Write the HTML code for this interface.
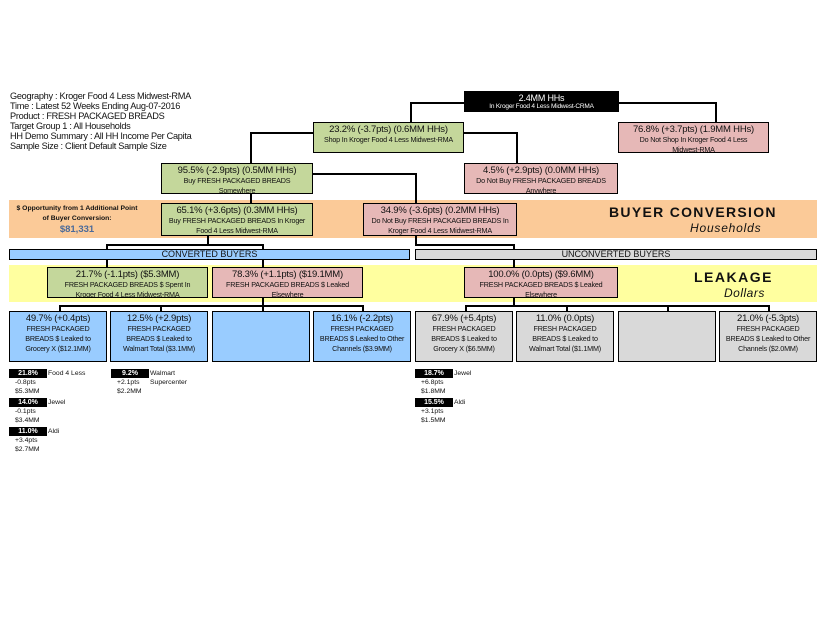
<!DOCTYPE html>
<html><head><meta charset="utf-8"><style>
body{margin:0;width:825px;height:638px;background:#fff;position:relative;overflow:hidden;font-family:"Liberation Sans",Arial,sans-serif;color:#111}
div{position:absolute;box-sizing:border-box}
.b{border:1.5px solid #000;text-align:center;overflow:hidden}
.t{position:static;font-size:9.5px;line-height:11px;margin-top:1px;letter-spacing:-0.2px;font-weight:500}
.s{position:static;font-size:7.2px;line-height:10px;letter-spacing:-0.2px;white-space:nowrap}
.g{background:#c4d79b}.p{background:#e6b8b7}.bl{background:#99ccff}.gr{background:#d9d9d9}
.h{height:1.5px;background:#000}.v{width:1.5px;background:#000}
.info{left:10px;font-size:9.2px;line-height:10px;letter-spacing:-0.3px}
.k{background:#000;color:#fff;font-size:7px;font-weight:bold;text-align:center;height:9px;line-height:9px;width:38px}
.m{font-size:6.8px;line-height:9px}
</style></head><body>
<div class="info" style="top:91px">Geography : Kroger Food 4 Less Midwest-RMA<br>Time : Latest 52 Weeks Ending Aug-07-2016<br>Product : FRESH PACKAGED BREADS<br>Target Group 1 : All Households<br>HH Demo Summary : All HH Income Per Capita<br>Sample Size : Client Default Sample Size</div>

<div style="left:9px;top:200px;width:808px;height:38px;background:#fbca98"></div>
<div style="left:9px;top:265px;width:808px;height:37px;background:#ffff9f"></div>

<!-- connectors -->
<div class="h" style="left:410px;top:102px;width:55px"></div>
<div class="h" style="left:617px;top:102px;width:99px"></div>
<div class="v" style="left:410px;top:102px;height:20px"></div>
<div class="v" style="left:715px;top:102px;height:20px"></div>
<div class="h" style="left:250px;top:132px;width:64px"></div>
<div class="v" style="left:250px;top:132px;height:31px"></div>
<div class="h" style="left:463px;top:132px;width:54px"></div>
<div class="v" style="left:516px;top:132px;height:31px"></div>
<div class="h" style="left:312px;top:173px;width:104px"></div>
<div class="v" style="left:415px;top:173px;height:30px"></div>
<div class="v" style="left:250px;top:194px;height:9px"></div>
<div class="v" style="left:207px;top:236px;height:9px"></div>
<div class="h" style="left:106px;top:244px;width:157px"></div>
<div class="v" style="left:106px;top:244px;height:23px"></div>
<div class="v" style="left:262px;top:244px;height:23px"></div>
<div class="v" style="left:415px;top:236px;height:9px"></div>
<div class="h" style="left:415px;top:244px;width:99px"></div>
<div class="v" style="left:513px;top:244px;height:23px"></div>
<div class="v" style="left:262px;top:298px;height:8px"></div>
<div class="h" style="left:59px;top:305px;width:305px"></div>
<div class="v" style="left:59px;top:305px;height:6px"></div>
<div class="v" style="left:160px;top:305px;height:6px"></div>
<div class="v" style="left:262px;top:305px;height:6px"></div>
<div class="v" style="left:362px;top:305px;height:6px"></div>
<div class="v" style="left:513px;top:298px;height:8px"></div>
<div class="h" style="left:465px;top:305px;width:305px"></div>
<div class="v" style="left:465px;top:305px;height:6px"></div>
<div class="v" style="left:566px;top:305px;height:6px"></div>
<div class="v" style="left:667px;top:305px;height:6px"></div>
<div class="v" style="left:768px;top:305px;height:6px"></div>

<!-- boxes -->
<div class="b" style="left:464px;top:91px;width:155px;height:21px;background:#000;color:#fff"><div class="t" style="font-size:9px;line-height:10px">2.4MM HHs</div><div class="s" style="font-size:6.5px;line-height:8px">In Kroger Food 4 Less Midwest-CRMA</div></div>
<div class="b g" style="left:313px;top:122px;width:151px;height:31px"><div class="t">23.2% (-3.7pts) (0.6MM HHs)</div><div class="s">Shop In Kroger Food 4 Less Midwest-RMA</div></div>
<div class="b p" style="left:618px;top:122px;width:151px;height:31px"><div class="t">76.8% (+3.7pts) (1.9MM HHs)</div><div class="s">Do Not Shop In Kroger Food 4 Less<br>Midwest-RMA</div></div>
<div class="b g" style="left:161px;top:163px;width:152px;height:31px"><div class="t">95.5% (-2.9pts) (0.5MM HHs)</div><div class="s">Buy FRESH PACKAGED BREADS<br>Somewhere</div></div>
<div class="b p" style="left:464px;top:163px;width:154px;height:31px"><div class="t">4.5% (+2.9pts) (0.0MM HHs)</div><div class="s">Do Not Buy FRESH PACKAGED BREADS<br>Anywhere</div></div>
<div class="b g" style="left:161px;top:203px;width:152px;height:33px"><div class="t">65.1% (+3.6pts) (0.3MM HHs)</div><div class="s">Buy FRESH PACKAGED BREADS In Kroger<br>Food 4 Less Midwest-RMA</div></div>
<div class="b p" style="left:363px;top:203px;width:154px;height:33px"><div class="t">34.9% (-3.6pts) (0.2MM HHs)</div><div class="s">Do Not Buy FRESH PACKAGED BREADS In<br>Kroger Food 4 Less Midwest-RMA</div></div>

<div style="left:12px;top:204px;width:130px;text-align:center;font-size:6.8px;font-weight:bold;line-height:10px">$ Opportunity from 1 Additional Point<br>of Buyer Conversion:</div>
<div style="left:12px;top:224px;width:130px;text-align:center;font-size:9.5px;font-weight:bold;color:#4a6a9a">$81,331</div>
<div style="left:609px;top:204px;font-size:14px;font-weight:bold;letter-spacing:1.3px">BUYER CONVERSION</div>
<div style="left:690px;top:221px;font-size:12px;font-style:italic;letter-spacing:0.8px">Households</div>
<div style="left:694px;top:269px;font-size:14px;font-weight:bold;letter-spacing:1.5px">LEAKAGE</div>
<div style="left:724px;top:286px;font-size:12px;font-style:italic;letter-spacing:0.5px">Dollars</div>

<div class="b bl" style="left:9px;top:249px;width:401px;height:11px;font-size:9px;line-height:8px">CONVERTED BUYERS</div>
<div class="b gr" style="left:415px;top:249px;width:402px;height:11px;font-size:9px;line-height:8px">UNCONVERTED BUYERS</div>

<div class="b g" style="left:47px;top:267px;width:161px;height:31px"><div class="t">21.7% (-1.1pts) ($5.3MM)</div><div class="s">FRESH PACKAGED BREADS $ Spent In<br>Kroger Food 4 Less Midwest-RMA</div></div>
<div class="b p" style="left:212px;top:267px;width:151px;height:31px"><div class="t">78.3% (+1.1pts) ($19.1MM)</div><div class="s">FRESH PACKAGED BREADS $ Leaked<br>Elsewhere</div></div>
<div class="b p" style="left:464px;top:267px;width:154px;height:31px"><div class="t">100.0% (0.0pts) ($9.6MM)</div><div class="s">FRESH PACKAGED BREADS $ Leaked<br>Elsewhere</div></div>

<div class="b bl" style="left:9px;top:311px;width:98px;height:51px"><div class="t">49.7% (+0.4pts)</div><div class="s">FRESH PACKAGED<br>BREADS $ Leaked to<br>Grocery X ($12.1MM)</div></div>
<div class="b bl" style="left:110px;top:311px;width:98px;height:51px"><div class="t">12.5% (+2.9pts)</div><div class="s">FRESH PACKAGED<br>BREADS $ Leaked to<br>Walmart Total ($3.1MM)</div></div>
<div class="b bl" style="left:212px;top:311px;width:98px;height:51px"></div>
<div class="b bl" style="left:313px;top:311px;width:98px;height:51px"><div class="t">16.1% (-2.2pts)</div><div class="s">FRESH PACKAGED<br>BREADS $ Leaked to Other<br>Channels ($3.9MM)</div></div>
<div class="b gr" style="left:415px;top:311px;width:98px;height:51px"><div class="t">67.9% (+5.4pts)</div><div class="s">FRESH PACKAGED<br>BREADS $ Leaked to<br>Grocery X ($6.5MM)</div></div>
<div class="b gr" style="left:516px;top:311px;width:98px;height:51px"><div class="t">11.0% (0.0pts)</div><div class="s">FRESH PACKAGED<br>BREADS $ Leaked to<br>Walmart Total ($1.1MM)</div></div>
<div class="b gr" style="left:618px;top:311px;width:98px;height:51px"></div>
<div class="b gr" style="left:719px;top:311px;width:98px;height:51px"><div class="t">21.0% (-5.3pts)</div><div class="s">FRESH PACKAGED<br>BREADS $ Leaked to Other<br>Channels ($2.0MM)</div></div>

<!-- small labels -->
<div class="k" style="left:9px;top:369px">21.8%</div><div class="m" style="left:48px;top:369px">Food 4 Less</div>
<div class="m" style="left:15px;top:378px">-0.8pts<br>$5.3MM</div>
<div class="k" style="left:9px;top:398px">14.0%</div><div class="m" style="left:48px;top:398px">Jewel</div>
<div class="m" style="left:15px;top:407px">-0.1pts<br>$3.4MM</div>
<div class="k" style="left:9px;top:427px">11.0%</div><div class="m" style="left:48px;top:427px">Aldi</div>
<div class="m" style="left:15px;top:436px">+3.4pts<br>$2.7MM</div>

<div class="k" style="left:111px;top:369px">9.2%</div><div class="m" style="left:150px;top:369px">Walmart<br>Supercenter</div>
<div class="m" style="left:117px;top:378px">+2.1pts<br>$2.2MM</div>

<div class="k" style="left:415px;top:369px">18.7%</div><div class="m" style="left:454px;top:369px">Jewel</div>
<div class="m" style="left:421px;top:378px">+6.8pts<br>$1.8MM</div>
<div class="k" style="left:415px;top:398px">15.5%</div><div class="m" style="left:454px;top:398px">Aldi</div>
<div class="m" style="left:421px;top:407px">+3.1pts<br>$1.5MM</div>
</body></html>
